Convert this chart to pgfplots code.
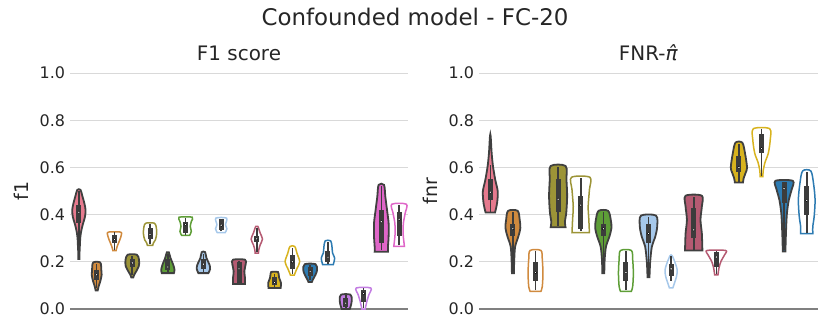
\documentclass[border=0pt]{standalone}
\usepackage{fontspec}
\setmainfont{DejaVu Sans}
\usepackage{pgfplots}
\pgfplotsset{compat=1.18}

\definecolor{textc}{HTML}{262626}
\definecolor{edgec}{HTML}{404040}
\definecolor{boxc}{HTML}{3C3C3C}
\definecolor{pinkc}{HTML}{E67A8E}
\definecolor{orangec}{HTML}{D08A3E}
\definecolor{olivec}{HTML}{9C9437}
\definecolor{greenc}{HTML}{5E9E37}
\definecolor{lbluec}{HTML}{A6C8EA}
\definecolor{maroonc}{HTML}{B55A72}
\definecolor{yellowc}{HTML}{D8B31E}
\definecolor{bluec}{HTML}{2D7BB2}
\definecolor{purplec}{HTML}{C37DE2}
\definecolor{magentac}{HTML}{DF66C8}

% violin outline: centre, style, list of y/halfwidth from bottom to top
\newcommand\violin[3]{%
  \gdef\vR{}\gdef\vL{}%
  \foreach \yy/\ww in {#3}{%
    \pgfmathsetmacro\xr{#1+\ww}\pgfmathsetmacro\xl{#1-\ww}%
    \xdef\vR{\vR(\xr,\yy)}\xdef\vL{(\xl,\yy)\vL}}%
  \edef\vtmp{\noexpand\addplot[smooth, tension=0.5, #2] coordinates {\vR\vL} --cycle;}\vtmp}
\newcommand\vfilled[3]{\violin{#1}{fill=#2, draw=edgec, line width=1.8bp}{#3}}
\newcommand\vopen[3]{\violin{#1}{fill=white, draw=#2, line width=1.5bp}{#3}}
% inner box: centre, low, q1, median, q3, high
\newcommand\vinner[6]{%
  \addplot[boxc, line width=1.6bp] coordinates {(#1,#2) (#1,#6)};
  \addplot[boxc, line width=5bp] coordinates {(#1,#3) (#1,#5)};
  \addplot[only marks, mark=*, mark size=1.3bp, mark options={fill=white, draw=none}] coordinates {(#1,#4)};}

\pgfplotsset{
  vstyle/.style={
    scale only axis, height=236bp, anchor=south west,
    ymin=0, ymax=1, clip=false,
    xtick=\empty,
    ytick={0,0.2,0.4,0.6,0.8,1},
    yticklabels={0.0,0.2,0.4,0.6,0.8,1.0},
    yticklabel style={font=\fontsize{16}{19}\selectfont, text=textc, xshift=-1.5bp},
    major tick length=0pt,
    ymajorgrids, grid style={color=black!15, line width=0.9bp},
    axis x line=bottom, axis y line=left,
    x axis line style={draw=black!50, line width=2bp, -},
    y axis line style={draw=none},
    title style={font=\fontsize{20}{24}\selectfont, text=textc, at={(0.5,1)}, anchor=base, yshift=7bp},
    ylabel style={font=\fontsize{19}{23}\selectfont, text=textc, at={(axis description cs:-0.145,0.5)}, anchor=center},
  }
}

\begin{document}
\begin{tikzpicture}[x=1bp, y=1bp]
\path[use as bounding box] (0,0) rectangle (830,332);
\node[font=\fontsize{23}{27}\selectfont, text=textc, anchor=base] at (415,307) {Confounded model - FC-20};

% ---------------- F1 score ----------------
\begin{axis}[vstyle, at={(70bp,23bp)}, width=338bp, xmin=-0.5, xmax=18.5,
  title={F1 score}, ylabel={f1}]
\vfilled{0}{pinkc}{0.212/0.03, 0.24/0.037, 0.27/0.056, 0.30/0.075, 0.33/0.13, 0.36/0.225, 0.39/0.34, 0.42/0.375, 0.45/0.30, 0.48/0.19, 0.505/0.09}
\vinner{0}{0.27}{0.365}{0.41}{0.44}{0.50}
\vfilled{1}{orangec}{0.079/0.06, 0.096/0.11, 0.117/0.2, 0.145/0.28, 0.166/0.26, 0.197/0.2}
\vinner{1}{0.09}{0.125}{0.145}{0.165}{0.19}
\vopen{2}{orangec}{0.247/0.09, 0.265/0.15, 0.293/0.30, 0.315/0.39, 0.326/0.34}
\vinner{2}{0.25}{0.28}{0.295}{0.315}{0.325}
\vfilled{3}{olivec}{0.134/0.056, 0.145/0.11, 0.16/0.225, 0.18/0.36, 0.197/0.39, 0.21/0.375, 0.23/0.26}
\vinner{3}{0.145}{0.18}{0.195}{0.21}{0.225}
\vopen{4}{olivec}{0.27/0.15, 0.28/0.19, 0.293/0.30, 0.32/0.375, 0.35/0.34, 0.364/0.225}
\vinner{4}{0.275}{0.295}{0.315}{0.345}{0.36}
\vfilled{5}{greenc}{0.152/0.34, 0.166/0.375, 0.188/0.30, 0.216/0.15, 0.24/0.056}
\vinner{5}{0.155}{0.165}{0.178}{0.21}{0.235}
\vopen{6}{greenc}{0.312/0.225, 0.329/0.32, 0.35/0.26, 0.371/0.32, 0.389/0.37}
\vinner{6}{0.315}{0.32}{0.358}{0.37}{0.385}
\vfilled{7}{lbluec}{0.152/0.28, 0.169/0.375, 0.188/0.34, 0.216/0.17, 0.241/0.094}
\vinner{7}{0.155}{0.17}{0.19}{0.21}{0.235}
\vopen{8}{lbluec}{0.324/0.225, 0.34/0.32, 0.357/0.24, 0.385/0.30}
\vinner{8}{0.33}{0.335}{0.355}{0.38}{0.383}
\vfilled{9}{maroonc}{0.106/0.34, 0.13/0.34, 0.16/0.30, 0.19/0.375, 0.209/0.34}
\vinner{9}{0.11}{0.11}{0.17}{0.20}{0.205}
\vopen{10}{maroonc}{0.237/0.094, 0.25/0.11, 0.272/0.19, 0.296/0.32, 0.322/0.19, 0.35/0.056}
\vinner{10}{0.24}{0.285}{0.297}{0.31}{0.345}
\vfilled{11}{yellowc}{0.089/0.34, 0.11/0.36, 0.131/0.26, 0.15/0.225, 0.157/0.19}
\vinner{11}{0.095}{0.10}{0.112}{0.135}{0.15}
\vopen{12}{yellowc}{0.144/0.11, 0.152/0.15, 0.172/0.26, 0.20/0.41, 0.236/0.26, 0.265/0.13}
\vinner{12}{0.15}{0.17}{0.2}{0.23}{0.26}
\vfilled{13}{bluec}{0.114/0.094, 0.124/0.15, 0.145/0.30, 0.166/0.39, 0.19/0.30}
\vinner{13}{0.125}{0.14}{0.16}{0.18}{0.185}
\vopen{14}{bluec}{0.188/0.30, 0.216/0.375, 0.237/0.26, 0.265/0.225, 0.289/0.15}
\vinner{14}{0.19}{0.2}{0.22}{0.245}{0.285}
\vfilled{15}{purplec}{0.0/0.225, 0.018/0.30, 0.04/0.34, 0.061/0.26}
\vinner{15}{0.005}{0.01}{0.025}{0.045}{0.058}
\vopen{16}{purplec}{0.0/0.094, 0.033/0.19, 0.06/0.30, 0.089/0.41}
\vinner{16}{0.003}{0.03}{0.065}{0.08}{0.087}
\vfilled{17}{magentac}{0.243/0.375, 0.265/0.375, 0.307/0.41, 0.364/0.41, 0.42/0.32, 0.477/0.225, 0.526/0.15}
\vinner{17}{0.25}{0.28}{0.37}{0.42}{0.52}
\vopen{18}{magentac}{0.265/0.30, 0.29/0.26, 0.32/0.225, 0.364/0.24, 0.406/0.34, 0.444/0.41}
\vinner{18}{0.27}{0.31}{0.38}{0.41}{0.44}
\end{axis}

% ---------------- FNR ----------------
\begin{axis}[vstyle, at={(479bp,23bp)}, width=339bp, xmin=-0.5, xmax=14.5,
  title={FNR-\textit{π̂}}, ylabel={fnr}]
\vfilled{0}{pinkc}{0.409/0.21, 0.449/0.30, 0.498/0.33, 0.547/0.22, 0.604/0.12, 0.66/0.06, 0.733/0.015}
\vinner{0}{0.41}{0.46}{0.495}{0.55}{0.61}
\vfilled{1}{orangec}{0.152/0.044, 0.21/0.06, 0.265/0.10, 0.307/0.24, 0.343/0.33, 0.378/0.30, 0.416/0.21}
\vinner{1}{0.16}{0.31}{0.34}{0.36}{0.41}
\vopen{2}{orangec}{0.075/0.24, 0.095/0.30, 0.152/0.33, 0.209/0.30, 0.248/0.24}
\vinner{2}{0.08}{0.12}{0.155}{0.2}{0.245}
\vfilled{3}{olivec}{0.346/0.33, 0.37/0.30, 0.406/0.36, 0.477/0.40, 0.547/0.37, 0.606/0.33}
\vinner{3}{0.35}{0.41}{0.465}{0.55}{0.6}
\vopen{4}{olivec}{0.324/0.385, 0.378/0.36, 0.434/0.33, 0.505/0.385, 0.558/0.41}
\vinner{4}{0.33}{0.34}{0.44}{0.48}{0.555}
\vfilled{5}{greenc}{0.152/0.044, 0.21/0.06, 0.265/0.12, 0.307/0.27, 0.343/0.36, 0.378/0.33, 0.416/0.21}
\vinner{5}{0.16}{0.31}{0.34}{0.36}{0.41}
\vopen{6}{greenc}{0.075/0.24, 0.095/0.30, 0.152/0.33, 0.209/0.30, 0.248/0.24}
\vinner{6}{0.08}{0.12}{0.155}{0.2}{0.245}
\vfilled{7}{lbluec}{0.135/0.044, 0.2/0.074, 0.265/0.15, 0.307/0.30, 0.35/0.385, 0.396/0.33}
\vinner{7}{0.14}{0.28}{0.32}{0.36}{0.39}
\vopen{8}{lbluec}{0.089/0.074, 0.11/0.15, 0.138/0.24, 0.166/0.27, 0.195/0.18, 0.226/0.044}
\vinner{8}{0.12}{0.14}{0.17}{0.19}{0.225}
\vfilled{9}{maroonc}{0.248/0.385, 0.32/0.36, 0.378/0.30, 0.434/0.36, 0.48/0.36}
\vinner{9}{0.25}{0.3}{0.335}{0.43}{0.475}
\vopen{10}{maroonc}{0.145/0.074, 0.175/0.12, 0.203/0.21, 0.23/0.37, 0.248/0.41}
\vinner{10}{0.15}{0.18}{0.22}{0.24}{0.245}
\vfilled{11}{yellowc}{0.536/0.18, 0.554/0.21, 0.578/0.30, 0.6/0.36, 0.66/0.27, 0.705/0.15}
\vinner{11}{0.54}{0.58}{0.6}{0.65}{0.7}
\vopen{12}{yellowc}{0.561/0.06, 0.586/0.074, 0.62/0.15, 0.66/0.30, 0.716/0.385, 0.764/0.36}
\vinner{12}{0.565}{0.66}{0.68}{0.74}{0.762}
\vfilled{13}{bluec}{0.244/0.06, 0.3/0.074, 0.4/0.12, 0.463/0.21, 0.505/0.33, 0.543/0.385}
\vinner{13}{0.25}{0.45}{0.51}{0.54}{0.54}
\vopen{14}{bluec}{0.319/0.27, 0.35/0.27, 0.392/0.33, 0.463/0.37, 0.533/0.30, 0.585/0.18}
\vinner{14}{0.32}{0.4}{0.46}{0.52}{0.58}
\end{axis}
\end{tikzpicture}
\end{document}
